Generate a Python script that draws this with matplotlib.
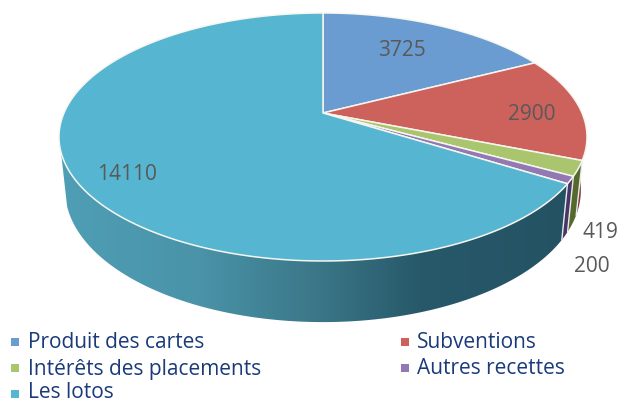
import numpy as np
import matplotlib
matplotlib.use("Agg")
import matplotlib.pyplot as plt
from matplotlib.patches import Polygon
from matplotlib.colors import LinearSegmentedColormap

categories = ["Produit des cartes", "Subventions", "Intérêts des placements", "Autres recettes", "Les lotos"]
values = [3725, 2900, 419, 200, 14110]
top_colors = ["#6a9bd1", "#cd625d", "#a9c56d", "#9379b3", "#56b5d0"]
side_colors = ["#3f6288", "#7c3a38", "#56692c", "#4a3566", "#22505f"]
side_stops = [(0.0, "#4f9fb6"), (0.28, "#4a93a8"), (0.515, "#3a7687"), (0.71, "#27596a"), (1.0, "#245263")]
label_pos = [(402, 51), (532, 114), (600, 232), (592, 267), (127, 175)]

fig = plt.figure(figsize=(6.2, 4.03), dpi=100)
ax = fig.add_axes([0, 0, 1, 1])
ax.set_xlim(0, 620)
ax.set_ylim(403, 0)
ax.axis("off")

def top_xy(t):
    u, v = np.sin(t), np.cos(t)
    d = 1 + 0.1935 * v
    return 323 + 259 * u / d, 113 - 119.35 * v / d

def bot_xy(t):
    u, v = np.sin(t), np.cos(t)
    d = 1 + 0.1935 * v
    return 323 + 253 * u / d, 164.5 - 127.1 * v / d

fr = np.cumsum([0] + values) / sum(values) * 2 * np.pi
VIS_START = np.deg2rad(60)
VIS_END = np.deg2rad(252)

# sides
for i in range(len(values)):
    t0, t1 = fr[i], min(fr[i + 1], VIS_END)
    if t1 <= VIS_START:
        continue
    t = np.linspace(max(t0, VIS_START), t1, 200)
    tx, ty = top_xy(t)
    bx, by = bot_xy(t)
    pts = np.column_stack([np.r_[tx, bx[::-1]], np.r_[ty, by[::-1]]])
    if i == len(values) - 1:
        p = Polygon(pts, closed=True, fc="none", ec="none")
        ax.add_patch(p)
        cmap = LinearSegmentedColormap.from_list("side", side_stops)
        im = ax.imshow(np.linspace(0, 1, 256)[None, :], extent=(55, 570, 330, 130), cmap=cmap,
                       aspect="auto", zorder=1)
        im.set_clip_path(p)
        ax.set_xlim(0, 620)
        ax.set_ylim(403, 0)
    else:
        ax.add_patch(Polygon(pts, closed=True, fc=side_colors[i], ec="none", zorder=1))
    if i >= 2:
        ax.plot([tx[0], bx[0]], [ty[0], by[0]], color="#e8ecee", lw=1.0, zorder=1.5)

# top face
for i in range(len(values)):
    t = np.linspace(fr[i], fr[i + 1], 300)
    x, y = top_xy(t)
    pts = np.column_stack([np.r_[323, x], np.r_[113, y]])
    ax.add_patch(Polygon(pts, closed=True, fc=top_colors[i], ec="#f6f6f0", lw=1.1, zorder=2, joinstyle="round"))

for v, (x, y) in zip(values, label_pos):
    ax.text(x, y, str(v), ha="center", va="center", color="#595959", fontsize=15, family="Open Sans", zorder=3)

leg_x = [15, 15, 15, 405, 405]
leg_y = [342, 368, 394, 342, 368]
leg_text_y = [343, 369, 392, 343, 369]
leg_order = [0, 2, 4, 1, 3]
for lx, ly, ty_, idx in zip(leg_x, leg_y, leg_text_y, leg_order):
    ax.scatter([lx], [ly], marker="s", s=40, color=top_colors[idx], zorder=3, linewidths=0)
    ax.text(lx + (13 if lx < 100 else 12), ty_, categories[idx], ha="left", va="center", color="#1a3a7a", fontsize=15,
            family="Open Sans", zorder=3)

fig.savefig("out.png", dpi=100)
